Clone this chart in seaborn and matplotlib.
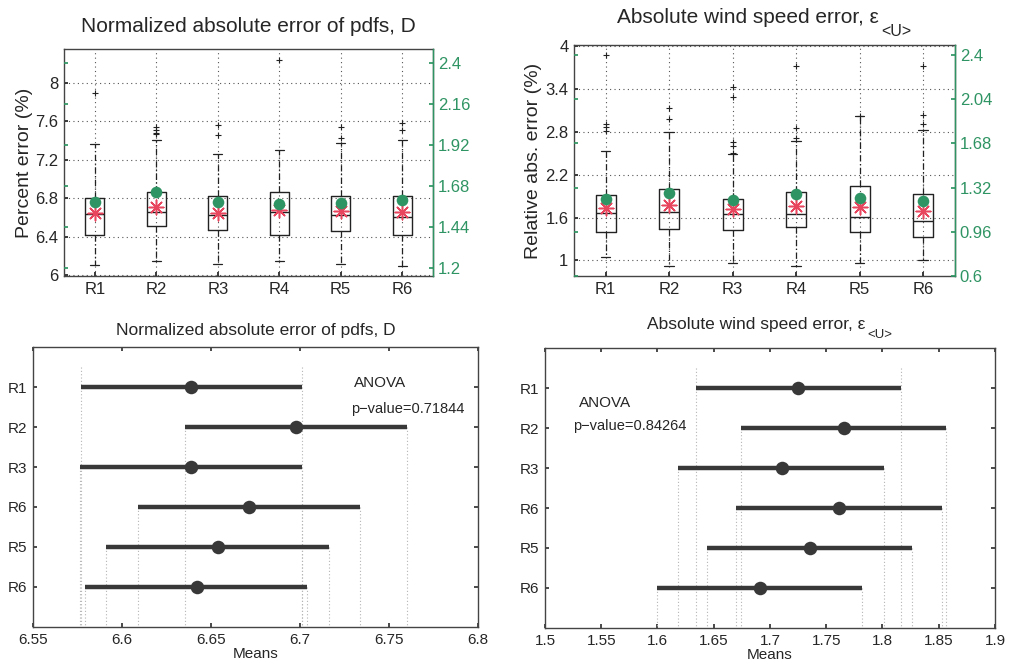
import numpy as np
import pandas as pd
import matplotlib
matplotlib.use("Agg")
import matplotlib.pyplot as plt
from matplotlib.ticker import FuncFormatter
import seaborn as sns

sns.set_theme(style="white")
plt.rcParams['font.family'] = ['Liberation Sans', 'DejaVu Sans']

# ---------------- data ----------------
runs = ["R1", "R2", "R3", "R4", "R5", "R6"]

# Top-left: normalized absolute error of pdfs (percent)
d_q1 = [6.42, 6.51, 6.47, 6.42, 6.46, 6.42]
d_med = [6.63, 6.655, 6.62, 6.655, 6.625, 6.60]
d_q3 = [6.80, 6.86, 6.825, 6.86, 6.825, 6.82]
d_wlo = [6.10, 6.15, 6.12, 6.15, 6.11, 6.09]
d_whi = [7.36, 7.40, 7.26, 7.30, 7.37, 7.40]
d_fliers = [[7.89], [7.54, 7.51, 7.48, 7.47], [7.56, 7.46], [8.24], [7.54, 7.42], [7.58, 7.51]]
d_star = [6.65, 6.71, 6.65, 6.68, 6.67, 6.66]
d_green = [1.59, 1.646, 1.59, 1.575, 1.58, 1.60]

# Top-right: absolute wind speed error (relative %)
u_q1 = [1.393, 1.44, 1.421, 1.468, 1.393, 1.323]
u_med = [1.66, 1.674, 1.65, 1.646, 1.613, 1.557]
u_q3 = [1.917, 2.00, 1.861, 1.955, 2.04, 1.927]
u_wlo = [1.047, 0.916, 0.958, 0.925, 0.958, 1.00]
u_whi = [2.535, 2.797, 2.49, 2.67, 3.02, 2.834]
u_fliers = [[3.88, 2.91, 2.87, 2.82], [3.14, 2.98], [3.43, 3.29, 2.66, 2.61, 2.50],
            [3.72, 2.86, 2.72], [3.02], [3.73, 3.04, 2.91]]
u_star = [1.73, 1.777, 1.716, 1.767, 1.744, 1.69]
u_green = [1.23, 1.276, 1.216, 1.265, 1.233, 1.208]

# Bottom: ANOVA multiple comparison of means
mc_labels = ["R1", "R2", "R3", "R6", "R5", "R6"]
d_mean = [6.639, 6.698, 6.639, 6.6712, 6.6537, 6.642]
d_lo = [6.5768, 6.6354, 6.5764, 6.609, 6.591, 6.579]
d_hi = [6.7013, 6.760, 6.7013, 6.7335, 6.716, 6.704]
u_mean = [1.7252, 1.7655, 1.7104, 1.761, 1.7353, 1.6908]
u_lo = [1.6342, 1.6742, 1.6185, 1.670, 1.6437, 1.5996]
u_hi = [1.8164, 1.8567, 1.801, 1.8526, 1.826, 1.782]
d_pval = "0.71844"
u_pval = "0.84264"

title_d = "Normalized absolute error of pdfs, D"
title_u = "Absolute wind speed error, ε"
title_u_sub = "<U>"

GREEN = "#2f9463"
RED = "#e8455e"
DARK = "#383838"

fig = plt.figure(figsize=(10.10, 6.69), dpi=100)
ax_tl = fig.add_axes([0.0634, 0.5874, 0.3653, 0.3393])
ax_tr = fig.add_axes([0.5683, 0.5874, 0.3772, 0.3453])
ax_bl = fig.add_axes([0.0327, 0.0628, 0.4406, 0.4185])
ax_br = fig.add_axes([0.5396, 0.0613, 0.4455, 0.4185])

gfmt = FuncFormatter(lambda v, p: f"{v:g}")


def box_panel(ax, q1, med, q3, wlo, whi, fliers, star, green, ylim, yticks,
              ylim2, yticks2, title, ylabel, title_pad):
    pos = np.arange(1, len(runs) + 1)
    stats = [dict(q1=a, med=b, q3=c, whislo=d, whishi=e, fliers=f, label=l)
             for a, b, c, d, e, f, l in zip(q1, med, q3, wlo, whi, fliers, runs)]
    ax.bxp(stats, positions=pos, widths=0.31, capwidths=0.15, showfliers=True,
           boxprops=dict(color="#222222", lw=1.0),
           medianprops=dict(color="#222222", lw=1.0),
           whiskerprops=dict(color="#222222", lw=0.9, ls=(0, (5, 2, 1, 2))),
           capprops=dict(color="#222222", lw=0.9),
           flierprops=dict(marker="+", markersize=4, markeredgecolor="#222222",
                           markeredgewidth=0.8, linestyle="none"),
           zorder=3)
    ax.set_xlim(0.5, 6.5)
    ax.set_ylim(*ylim)
    ax.set_yticks(yticks)
    ax.yaxis.set_major_formatter(gfmt)
    ax.set_xticks(pos)
    ax.set_xticklabels(runs)
    ax.grid(True, ls=(0, (1, 3)), color="#555555", lw=0.8)
    ax.set_axisbelow(True)
    sns.scatterplot(x=pos, y=star, ax=ax, marker=(8, 2, 0), s=110, color=RED,
                    linewidth=1.1, edgecolor=RED, zorder=5, legend=False)
    ax.tick_params(axis="both", direction="in", length=3, labelsize=12,
                   color="#222222", left=True, bottom=True, pad=4)
    for s in ax.spines.values():
        s.set_color("#444444")
        s.set_linewidth(1.0)
    t = ax.set_title(title, fontsize=15, pad=title_pad)
    ax.set_ylabel(ylabel, fontsize=14, labelpad=2)

    ax2 = ax.twinx()
    ax2.set_ylim(*ylim2)
    ax2.set_yticks(yticks2)
    ax2.yaxis.set_major_formatter(gfmt)
    sns.scatterplot(x=pos, y=green, ax=ax2, color=GREEN, s=70, linewidth=0,
                    zorder=6, legend=False)
    ax2.tick_params(axis="y", direction="in", length=3, colors=GREEN,
                    labelsize=12, left=True, right=True, labelleft=False)
    ax2.spines["right"].set_color(GREEN)
    ax2.spines["right"].set_linewidth(1.0)
    for k in ("left", "top", "bottom"):
        ax2.spines[k].set_visible(False)
    ax2.grid(False)
    return t


t_tl = box_panel(ax_tl, d_q1, d_med, d_q3, d_wlo, d_whi, d_fliers, d_star, d_green,
                 (5.99, 8.35), [6, 6.4, 6.8, 7.2, 7.6, 8],
                 (1.155, 2.484), [1.2, 1.44, 1.68, 1.92, 2.16, 2.4],
                 title_d, "Percent error (%)", 12)
t_tr = box_panel(ax_tr, u_q1, u_med, u_q3, u_wlo, u_whi, u_fliers, u_star, u_green,
                 (0.78, 4.02), [1, 1.6, 2.2, 2.8, 3.4, 4],
                 (0.6, 2.48), [0.6, 0.96, 1.32, 1.68, 2.04, 2.4],
                 title_u, "Relative abs. error (%)", 16)


def mc_panel(ax, means, lo, hi, xlim, xticks, title, pval, anova_xy, p_xy, pad):
    ypos = np.arange(1, len(mc_labels) + 1)
    starts = [0.5] + list(ypos[1:])
    ax.vlines(lo, starts, 7, colors="#b5b5b5", linestyles=(0, (1, 2)), lw=0.8, zorder=1)
    ax.vlines(hi, starts, 7, colors="#b5b5b5", linestyles=(0, (1, 2)), lw=0.8, zorder=1)
    ax.hlines(ypos, lo, hi, colors=DARK, lw=3.2, zorder=3)
    sns.scatterplot(x=means, y=ypos, ax=ax, color=DARK, s=95, linewidth=0,
                    zorder=4, legend=False)
    ax.set_xlim(*xlim)
    ax.set_ylim(7, 0)
    ax.set_xticks(xticks)
    ax.xaxis.set_major_formatter(gfmt)
    ax.set_yticks(ypos)
    ax.set_yticklabels(mc_labels)
    ax.tick_params(axis="both", direction="in", length=3, labelsize=11,
                   top=True, right=True, left=True, bottom=True, color="#333333", pad=4)
    for s in ax.spines.values():
        s.set_color("#444444")
        s.set_linewidth(1.0)
    ax.set_xlabel("Means", fontsize=11, labelpad=0)
    t = ax.set_title(title, fontsize=12.5, pad=pad)
    ax.text(anova_xy[0], anova_xy[1], "ANOVA", fontsize=11, ha="center", va="center")
    ax.text(p_xy[0], p_xy[1], "p\u2212value=" + pval, fontsize=10.5, ha="center", va="center")
    ax.grid(False)
    return t


t_bl = mc_panel(ax_bl, d_mean, d_lo, d_hi, (6.55, 6.8),
                [6.55, 6.6, 6.65, 6.7, 6.75, 6.8],
                title_d, d_pval, (6.745, 0.89), (6.7607, 1.55), 9)
t_br = mc_panel(ax_br, u_mean, u_lo, u_hi, (1.5, 1.9),
                [1.5, 1.55, 1.6, 1.65, 1.7, 1.75, 1.8, 1.85, 1.9],
                title_u, u_pval, (1.553, 1.38), (1.5756, 1.96), 14)

# subscripts "<U>" after the epsilon in the wind-speed titles,
# with the whole title (text + subscript) centred over its axes
fig.canvas.draw()
W, H = fig.bbox.width, fig.bbox.height
renderer = fig.canvas.get_renderer()
for ax, t, fs, gap, drop in ((ax_tr, t_tr, 11.5, 2, 3), (ax_br, t_br, 9.5, 2, 3)):
    sub = fig.text(0, 0, title_u_sub, fontsize=fs, ha="left", va="top")
    sw = sub.get_window_extent(renderer).width + gap
    t.set_x(0.5 - 0.5 * sw / ax.bbox.width)
    fig.canvas.draw()
    bb = t.get_window_extent(renderer)
    sub.set_position(((bb.x1 + gap) / W, (bb.y0 + drop) / H))

fig.savefig("out.png", dpi=100, facecolor="white")
